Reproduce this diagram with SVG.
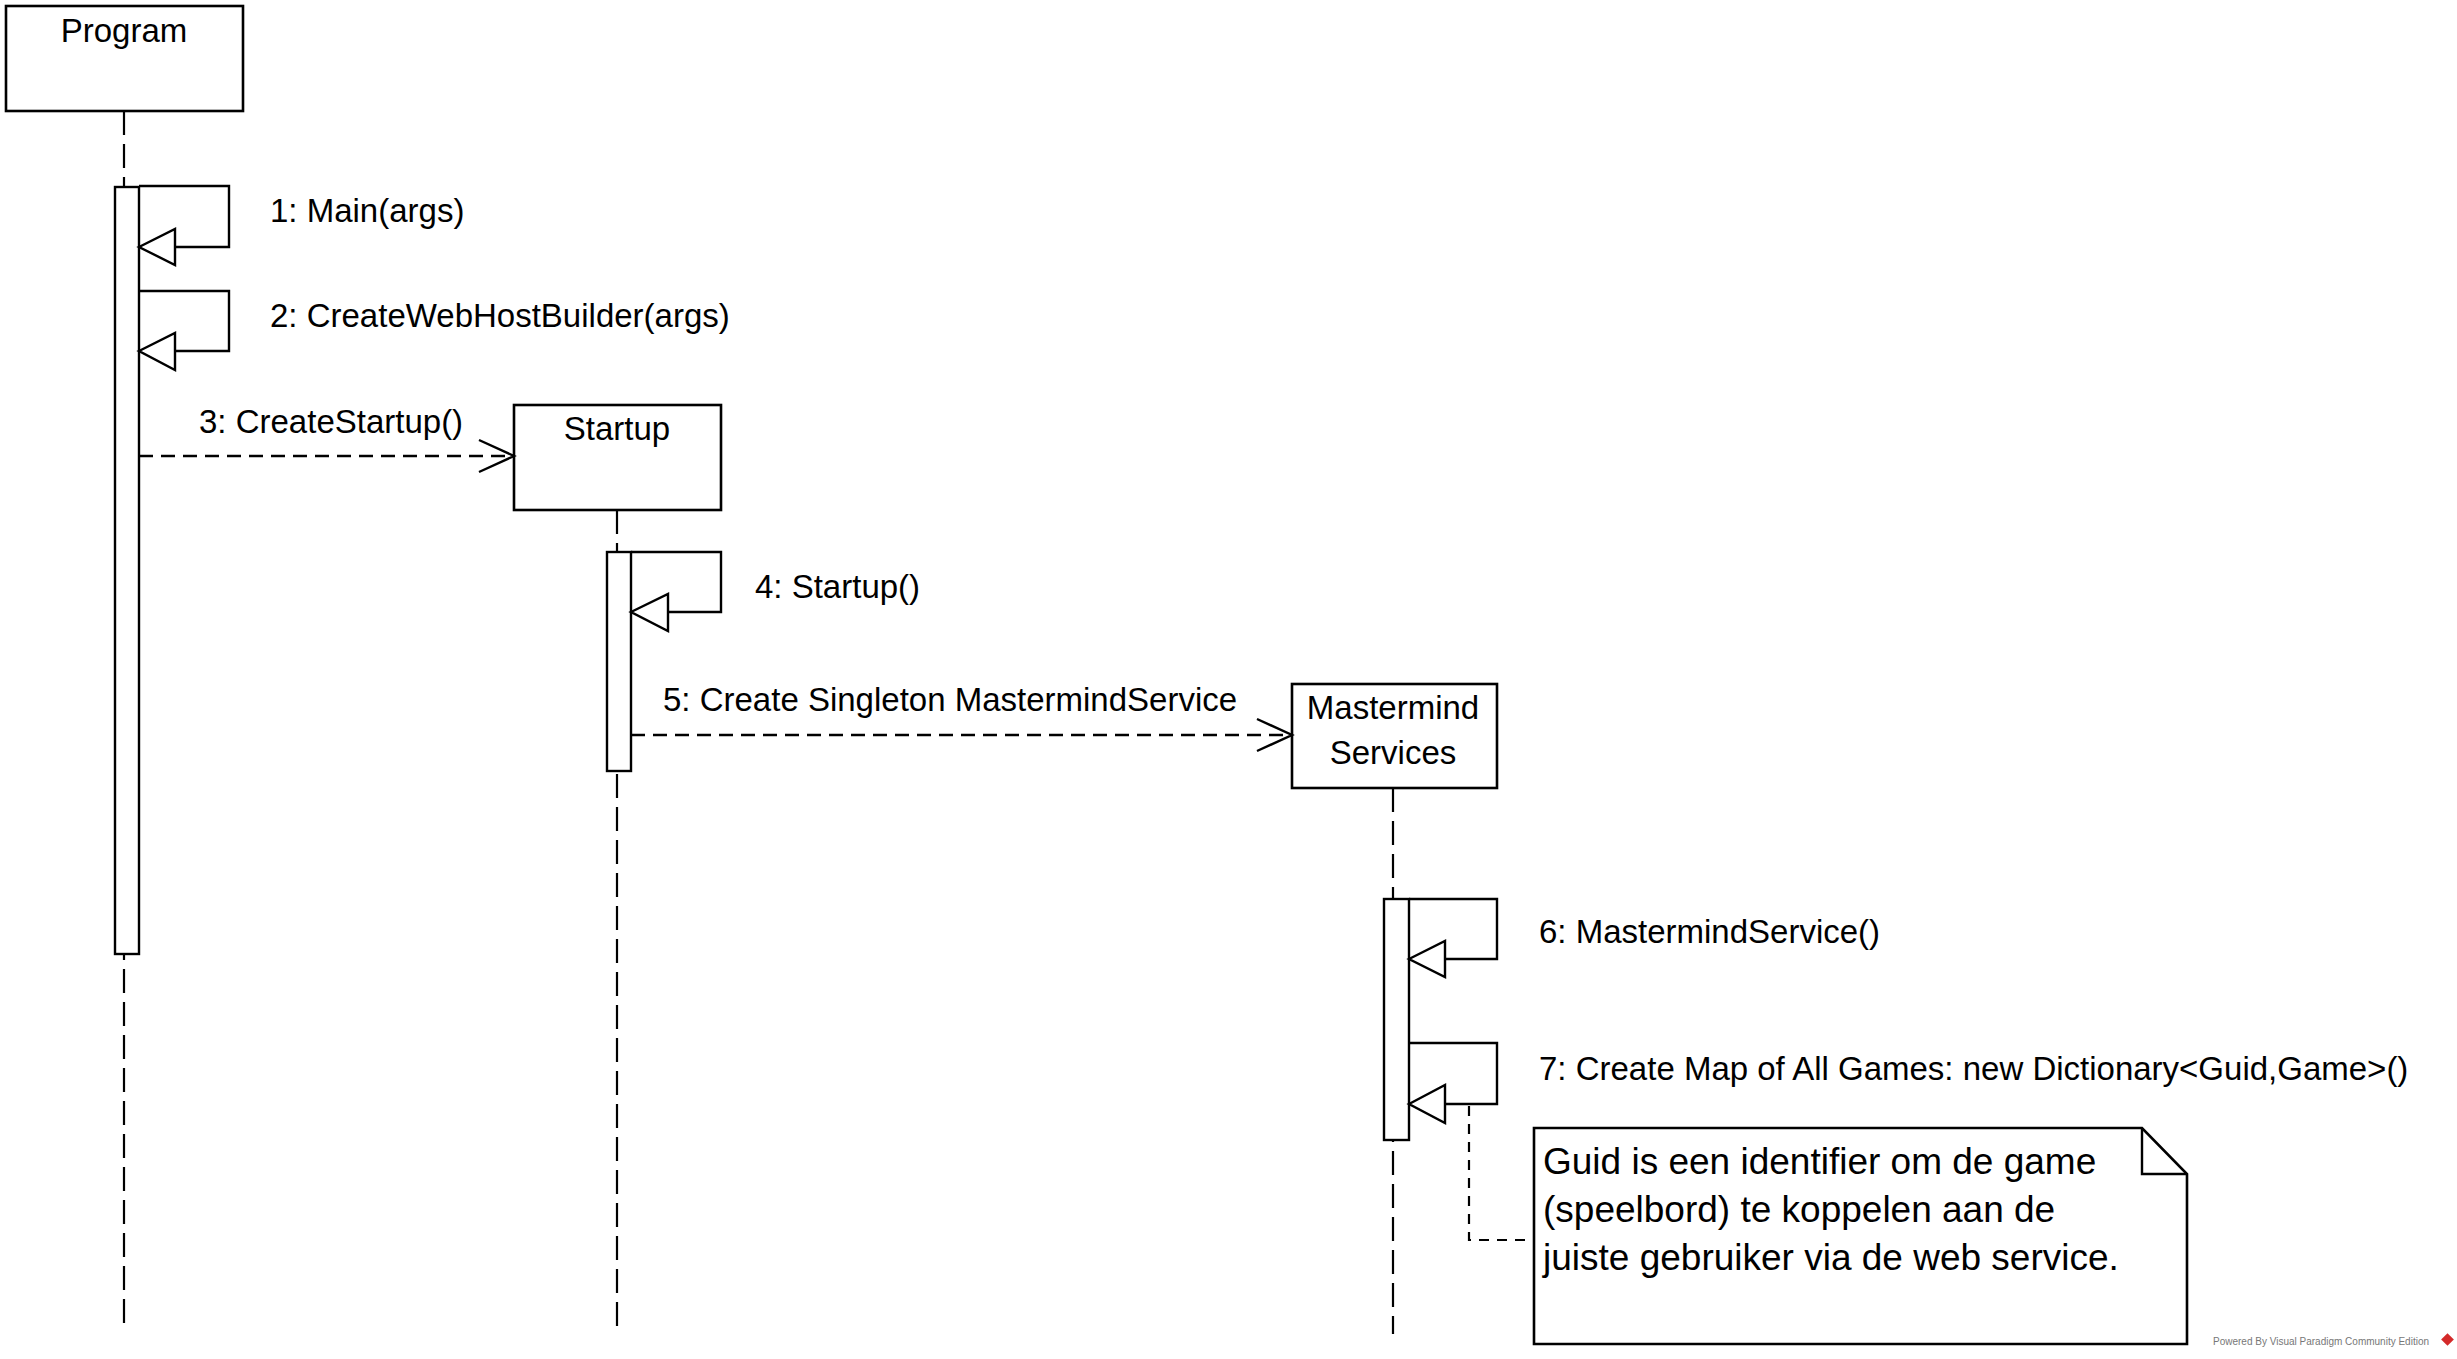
<svg xmlns="http://www.w3.org/2000/svg" width="2457" height="1359" viewBox="0 0 2457 1359">
<style>
  .box { fill: #fff; stroke: #000; stroke-width: 2.6; }
  .bar { fill: #fff; stroke: #000; stroke-width: 2.4; }
  .life { fill: none; stroke: #000; stroke-width: 2.2; stroke-dasharray: 24 9; }
  .msg { fill: none; stroke: #000; stroke-width: 2.4; }
  .dmsg { fill: none; stroke: #000; stroke-width: 2.4; stroke-dasharray: 14 8; }
  .ndash { fill: none; stroke: #000; stroke-width: 2.2; stroke-dasharray: 10 8; }
  .head { fill: #fff; stroke: #000; stroke-width: 2.4; stroke-linejoin: miter; }
  .open { fill: none; stroke: #000; stroke-width: 2.4; }
  .t { font-family: "Liberation Sans", Arial, sans-serif; font-size: 33px; fill: #000; }
  .tc { font-family: "Liberation Sans", Arial, sans-serif; font-size: 33px; fill: #000; text-anchor: middle; }
  .nt { font-family: "Liberation Sans", Arial, sans-serif; font-size: 37px; fill: #000; }
</style>
<rect x="0" y="0" width="2457" height="1359" fill="#fff"/>

<g id="lifelines">
  <line class="life" x1="124" y1="111" x2="124" y2="1323"/>
  <line class="life" x1="617" y1="510" x2="617" y2="1327"/>
  <line class="life" x1="1393" y1="788" x2="1393" y2="1334"/>
</g>

<g id="program">
  <rect class="box" x="6" y="6" width="237" height="105"/>
  <text class="tc" x="124" y="42">Program</text>
  <rect class="bar" x="115" y="187" width="24" height="767"/>
</g>

<g id="startup">
  <rect class="box" x="514" y="405" width="207" height="105"/>
  <text class="tc" x="617" y="440">Startup</text>
  <rect class="bar" x="607" y="552" width="24" height="219"/>
</g>

<g id="mastermind-services">
  <rect class="box" x="1292" y="684" width="205" height="104"/>
  <text class="tc" x="1393" y="719">Mastermind</text>
  <text class="tc" x="1393" y="764">Services</text>
  <rect class="bar" x="1384" y="899" width="25" height="241"/>
</g>

<g id="note">
  <polygon class="box" points="1534,1128 2142,1128 2187,1174 2187,1344 1534,1344"/>
  <polyline class="msg" points="2142,1128 2142,1174 2187,1174"/>
  <text class="nt" x="1543" y="1174">Guid is een identifier om de game</text>
  <text class="nt" x="1543" y="1222">(speelbord) te koppelen aan de</text>
  <text class="nt" x="1543" y="1270">juiste gebruiker via de web service.</text>
</g>

<g id="connectors">
  <!-- 1 -->
  <polyline class="msg" points="139,186 229,186 229,247 175,247"/>
  <polygon class="head" points="139,247 175,229 175,265"/>
  <text class="t" x="270" y="222">1: Main(args)</text>
  <!-- 2 -->
  <polyline class="msg" points="139,291 229,291 229,351 175,351"/>
  <polygon class="head" points="139,351 175,333 175,370"/>
  <text class="t" x="270" y="327">2: CreateWebHostBuilder(args)</text>
  <!-- 3 -->
  <line class="dmsg" x1="139" y1="456" x2="513" y2="456"/>
  <polyline class="open" points="479,440 514,456 479,472"/>
  <text class="t" x="199" y="433">3: CreateStartup()</text>
  <!-- 4 -->
  <polyline class="msg" points="631,552 721,552 721,612 668,612"/>
  <polygon class="head" points="631,612 668,594 668,631"/>
  <text class="t" x="755" y="598">4: Startup()</text>
  <!-- 5 -->
  <line class="dmsg" x1="631" y1="735" x2="1291" y2="735"/>
  <polyline class="open" points="1257,719 1292,735 1257,751"/>
  <text class="t" x="663" y="711">5: Create Singleton MastermindService</text>
  <!-- 6 -->
  <polyline class="msg" points="1409,899 1497,899 1497,959 1445,959"/>
  <polygon class="head" points="1409,959 1445,941 1445,977"/>
  <text class="t" x="1539" y="943">6: MastermindService()</text>
  <!-- 7 -->
  <polyline class="msg" points="1409,1043 1497,1043 1497,1104 1445,1104"/>
  <polygon class="head" points="1409,1104 1445,1085 1445,1123"/>
  <text class="t" x="1539" y="1080">7: Create Map of All Games: new Dictionary&lt;Guid,Game&gt;()</text>
  <!-- note anchor -->
  <polyline class="ndash" points="1469,1106 1469,1240 1534,1240"/>
</g>

<g id="footer">
  <text x="2213" y="1345" font-family="'Liberation Sans', Arial, sans-serif" font-size="10" fill="#777">Powered By Visual Paradigm Community Edition</text>
  <rect x="2443" y="1335" width="9" height="9" fill="#d42a2a" transform="rotate(45 2447.5 1339.5)"/>
</g>
</svg>
